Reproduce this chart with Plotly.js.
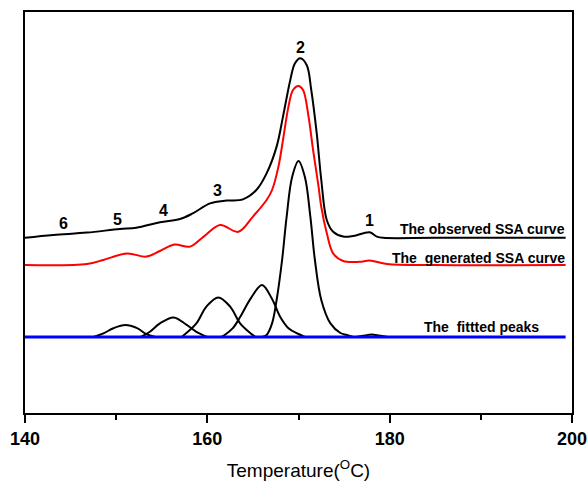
<!DOCTYPE html>
<html>
<head>
<meta charset="utf-8">
<script src="https://cdn.plot.ly/plotly-3.0.1.min.js"></script>
<style>html,body{margin:0;padding:0;background:#fff;}#chart{width:588px;height:483px;}</style>
</head>
<body>
<div id="chart"></div>
<script>
// Observed SSA curve
const obsX = [140, 143.1, 146.8, 150.4, 152.2, 154.8, 157, 158.4, 160.3, 162.1, 163.9, 165.4, 166.5, 167.6, 168.3, 169.1, 169.6, 170.2, 170.9, 171.4, 172.0, 172.5, 173.1, 173.8, 174.9, 176, 177.8, 178.6, 179.3, 185, 199.3];
const obsY = [43.8, 44.5, 45.1, 46, 46.3, 47.7, 48.5, 49.9, 52.4, 53.1, 53.4, 55.8, 59.9, 66.6, 74.1, 83.25, 87.4, 88.7, 87, 80.75, 69.9, 58.25, 48.25, 45.3, 44.1, 44.25, 45.2, 44.1, 43.8, 43.8, 43.8];
// Generated SSA curve
const genX = [140, 146.8, 148.6, 151.2, 153.3, 154.8, 156.4, 158.1, 159.6, 161.4, 163.4, 165, 166.5, 167.1, 167.8, 168.3, 168.9, 169.4, 170, 170.5, 171.1, 171.6, 172.2, 172.5, 173.1, 173.8, 174.9, 176.7, 177.8, 179.7, 185, 199.3];
const genY = [37, 37.25, 38.25, 39.9, 39.1, 40.5, 42.1, 41.6, 44.1, 47, 45.3, 49.1, 53.25, 55.75, 61.6, 68.25, 76.6, 80.75, 81.75, 80.75, 74.1, 65.75, 56.6, 51.5, 45, 39.9, 38, 37.8, 38.1, 37.25, 37, 37];
// Fitted peaks
const p5X = [147.5, 148.6, 149.7, 151, 152.3, 153.3, 154.3];
const p5Y = [19, 19.9, 21.2, 22, 21.2, 19.7, 19];
const p4X = [152.7, 153.7, 154.8, 156.3, 157.7, 158.8, 160];
const p4Y = [19, 20.3, 22.4, 23.9, 22.1, 20.3, 19];
const p3X = [157.2, 157.7, 158.8, 159.9, 161.2, 162.5, 163.6, 164.7, 165.3];
const p3Y = [19, 20, 22.4, 26.6, 28.9, 26.6, 22.4, 20, 19];
const pDX = [161.5, 161.9, 162.8, 163.6, 164.8, 166, 167.1, 168, 168.9, 170, 170.7];
const pDY = [19, 19.5, 21.2, 24, 28.8, 32, 28.5, 24, 21.2, 19.75, 19];
const p2X = [166, 166.5, 167.1, 167.6, 168.2, 168.7, 169.3, 170, 170.7, 171.3, 171.8, 172.5, 173.5, 174.6, 175.3, 176];
const p2Y = [19, 19.5, 22.4, 28.25, 38.25, 49.1, 59, 63, 59, 49.1, 38.25, 28.25, 22.4, 20, 19.5, 19];
const p1X = [176.3, 177.3, 178, 178.8, 179.8];
const p1Y = [19, 19.4, 19.6, 19.4, 19];
const baseX = [140, 199.3];
const baseY = [19, 19];
// Texts
const peakLabels = ['1', '2', '3', '4', '5', '6'];
const curveLabels = ['The observed SSA curve', 'The  generated SSA curve', 'The  fittted peaks'];
const xTickVals = [140, 160, 180, 200];

const blk = {color: '#000000', width: 2, shape: 'spline', smoothing: 1};
function tr(x, y, line) { return {x: x, y: y, type: 'scatter', mode: 'lines', line: line, hoverinfo: 'skip'}; }

const data = [
  tr(p5X, p5Y, blk), tr(p4X, p4Y, blk), tr(p3X, p3Y, blk), tr(pDX, pDY, blk), tr(p2X, p2Y, blk), tr(p1X, p1Y, blk),
  tr(baseX, baseY, {color: '#0000ff', width: 3}),
  tr(genX, genY, {color: '#ff0000', width: 2, shape: 'spline', smoothing: 1}),
  tr(obsX, obsY, blk)
];

const fam = 'Liberation Sans, Arial, sans-serif';
const labFont = {family: fam, size: 16, color: '#000', weight: 'bold'};
const curveFont = {family: fam, size: 14, color: '#000', weight: 'bold'};
const ann = [
  {x: 177.77, y: 48.25, text: peakLabels[0], font: labFont},
  {x: 170.24, y: 91.4, text: peakLabels[1], font: labFont},
  {x: 161.14, y: 55.75, text: peakLabels[2], font: labFont},
  {x: 155.17, y: 50.6, text: peakLabels[3], font: labFont},
  {x: 150.17, y: 48.5, text: peakLabels[4], font: labFont},
  {x: 144.2, y: 47.4, text: peakLabels[5], font: labFont},
  {x: 199.45, y: 46.0, text: curveLabels[0], font: curveFont, xanchor: 'right'},
  {x: 199.45, y: 38.7, text: curveLabels[1], font: curveFont, xanchor: 'right'},
  {x: 196.6, y: 21.4, text: curveLabels[2], font: curveFont, xanchor: 'right'}
].map(a => Object.assign({showarrow: false, xref: 'x', yref: 'y', yanchor: 'middle'}, a));

const layout = {
  width: 588, height: 483,
  margin: {l: 25, r: 16, t: 12, b: 70},
  paper_bgcolor: '#fff', plot_bgcolor: '#fff',
  showlegend: false,
  xaxis: {
    range: [140, 200], tickvals: xTickVals, ticktext: xTickVals.map(String),
    ticks: 'outside', ticklen: 8, tickwidth: 2, tickcolor: '#000',
    minor: {tickvals: [150, 170, 190], ticks: 'outside', ticklen: 5, tickwidth: 2, tickcolor: '#000'},
    showline: true, linecolor: '#000', linewidth: 2, mirror: true,
    showgrid: false, zeroline: false,
    tickfont: {family: fam, size: 18, color: '#000', weight: 'bold'},
    title: {text: 'Temperature(<sup>O</sup>C)', font: {family: fam, size: 19, color: '#000'}, standoff: 16}
  },
  yaxis: {
    range: [0, 100.25], showticklabels: false, ticks: '',
    showline: true, linecolor: '#000', linewidth: 2, mirror: true,
    showgrid: false, zeroline: false
  },
  annotations: ann
};

Plotly.newPlot('chart', data, layout, {staticPlot: true, displayModeBar: false});
</script>
</body>
</html>
